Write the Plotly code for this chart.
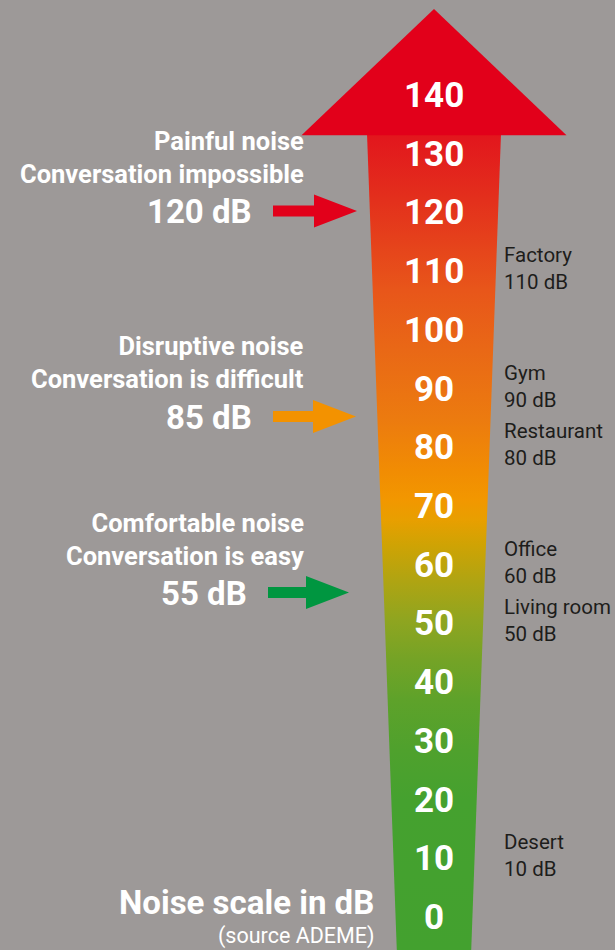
import plotly.graph_objects as go

# ---------------- data ----------------
scale_db = [0, 10, 20, 30, 40, 50, 60, 70, 80, 90, 100, 110, 120, 130, 140]
scale_labels = [str(v) for v in scale_db]

zone_values = [120, 85, 55]
zone_titles = ["Painful noise", "Disruptive noise", "Comfortable noise"]
zone_subtitles = ["Conversation impossible", "Conversation is difficult", "Conversation is easy"]
zone_value_labels = ["120 dB", "85 dB", "55 dB"]

example_names = ["Factory", "Gym", "Restaurant", "Office", "Living room", "Desert"]
example_db = [110, 90, 80, 60, 50, 10]

# ---------------- styling / geometry ----------------
W, H = 615, 950
BG = "#9d9998"
FONT = "Roboto"
Y_MIN, Y_MAX = -5.88, 155.93
PX_PER_DB = H / (Y_MAX - Y_MIN)

CX = 434               # arrow centre (x in px units)
TIP_DB = 154.4
HEAD_BASE_DB = 132.9
HEAD_HALF = 132.5
SHAFT_HALF_TOP = 67
SHAFT_HALF_BOT = 37
SHAFT_BOT_DB = Y_MIN - 1

RED = "#e2001a"
ORANGE = "#f39200"
GREEN = "#009640"
ZONE_COLORS = [RED, ORANGE, GREEN]
ZONE_TAIL_X = [273, 273, 268]
ZONE_TIP_X = [357, 356, 349]
ARROW_HEAD_LEN = 43
ARROW_SHAFT_HALF = 5.5 / PX_PER_DB
ARROW_HEAD_HALF = 16.5 / PX_PER_DB

grad_stops_db = [-6, 19.7, 28.2, 36.7, 43.5, 50.3, 57.1, 63.1, 67.4, 70.8, 75.9, 84.4, 96.3, 106.5, 121.8, 133]
grad_colors = ["#43a12f", "#45a12f", "#4fa12d", "#5ea22a", "#74a326", "#8fa520", "#b0a412",
               "#cfa304", "#e89f00", "#f29700", "#f18c03", "#ec7b0f", "#e96816", "#e8561a",
               "#e3301c", "#e2161d"]
g0, g1 = grad_stops_db[0], grad_stops_db[-1]
colorscale = [[(d - g0) / (g1 - g0), c] for d, c in zip(grad_stops_db, grad_colors)]

fig = go.Figure()

# shaft with vertical gradient
fig.add_trace(go.Scatter(
    x=[CX - SHAFT_HALF_BOT, CX - SHAFT_HALF_TOP, CX + SHAFT_HALF_TOP, CX + SHAFT_HALF_BOT, CX - SHAFT_HALF_BOT],
    y=[SHAFT_BOT_DB, HEAD_BASE_DB + 0.3, HEAD_BASE_DB + 0.3, SHAFT_BOT_DB, SHAFT_BOT_DB],
    mode="lines", line=dict(width=0), fill="toself",
    fillgradient=dict(type="vertical", colorscale=colorscale, start=g0, stop=g1),
    hoverinfo="skip", showlegend=False))

# arrow head
fig.add_trace(go.Scatter(
    x=[CX - HEAD_HALF, CX, CX + HEAD_HALF, CX - HEAD_HALF],
    y=[HEAD_BASE_DB, TIP_DB, HEAD_BASE_DB, HEAD_BASE_DB],
    mode="lines", line=dict(width=0), fill="toself", fillcolor=RED,
    hoverinfo="skip", showlegend=False))

# zone arrows
for v, col, x0, x1 in zip(zone_values, ZONE_COLORS, ZONE_TAIL_X, ZONE_TIP_X):
    xb = x1 - ARROW_HEAD_LEN
    fig.add_trace(go.Scatter(
        x=[x0, xb, xb, x1, xb, xb, x0, x0],
        y=[v - ARROW_SHAFT_HALF, v - ARROW_SHAFT_HALF, v - ARROW_HEAD_HALF, v,
           v + ARROW_HEAD_HALF, v + ARROW_SHAFT_HALF, v + ARROW_SHAFT_HALF, v - ARROW_SHAFT_HALF],
        mode="lines", line=dict(width=0), fill="toself", fillcolor=col,
        hoverinfo="skip", showlegend=False))

annotations = []
# scale labels inside the arrow
for v, lab in zip(scale_db, scale_labels):
    annotations.append(dict(x=CX, y=v, xref="x", yref="y", text=lab, showarrow=False,
                            xanchor="center", yanchor="middle", yshift=-2,
                            font=dict(family=FONT, size=35, color="white", weight="bold")))

for v, t, s, lab, x1 in zip(zone_values, zone_titles, zone_subtitles, zone_value_labels, ZONE_TAIL_X):
    annotations.append(dict(x=306, y=v, xref="x", yref="y", text=t + "<br>" + s,
                            showarrow=False, xanchor="right", yanchor="bottom", align="right",
                            yshift=20,
                            font=dict(family=FONT, size=25.5, color="white", weight="bold")))
    annotations.append(dict(x=x1 - 19, y=v, xref="x", yref="y", text=lab,
                            showarrow=False, xanchor="right", yanchor="middle", yshift=-1,
                            font=dict(family=FONT, size=33, color="white", weight="bold")))

for n, v in zip(example_names, example_db):
    annotations.append(dict(x=502, y=v, xref="x", yref="y", text=f"{n}<br>{v} dB",
                            showarrow=False, xanchor="left", yanchor="middle", align="left",
                            yshift=1,
                            font=dict(family=FONT, size=20.5, color="#1d1d1b")))

annotations.append(dict(x=376, y=1 - 902 / H, xref="x", yref="paper", text="Noise scale in dB",
                        showarrow=False, xanchor="right", yanchor="middle",
                        font=dict(family=FONT, size=33, color="white", weight="bold")))
annotations.append(dict(x=376, y=0, xref="x", yref="paper", text="(source ADEME)",
                        showarrow=False, xanchor="right", yanchor="bottom", yshift=-1,
                        font=dict(family=FONT, size=21.5, color="white")))

fig.update_layout(
    width=W, height=H, margin=dict(l=0, r=0, t=0, b=0),
    paper_bgcolor=BG, plot_bgcolor=BG,
    xaxis=dict(range=[0, W], visible=False, fixedrange=True),
    yaxis=dict(range=[Y_MIN, Y_MAX], visible=False, fixedrange=True),
    annotations=annotations, showlegend=False)

fig.write_html("out.html", config={"displayModeBar": False},
               post_script="document.body.style.margin='0px';document.body.style.overflow='hidden';")
